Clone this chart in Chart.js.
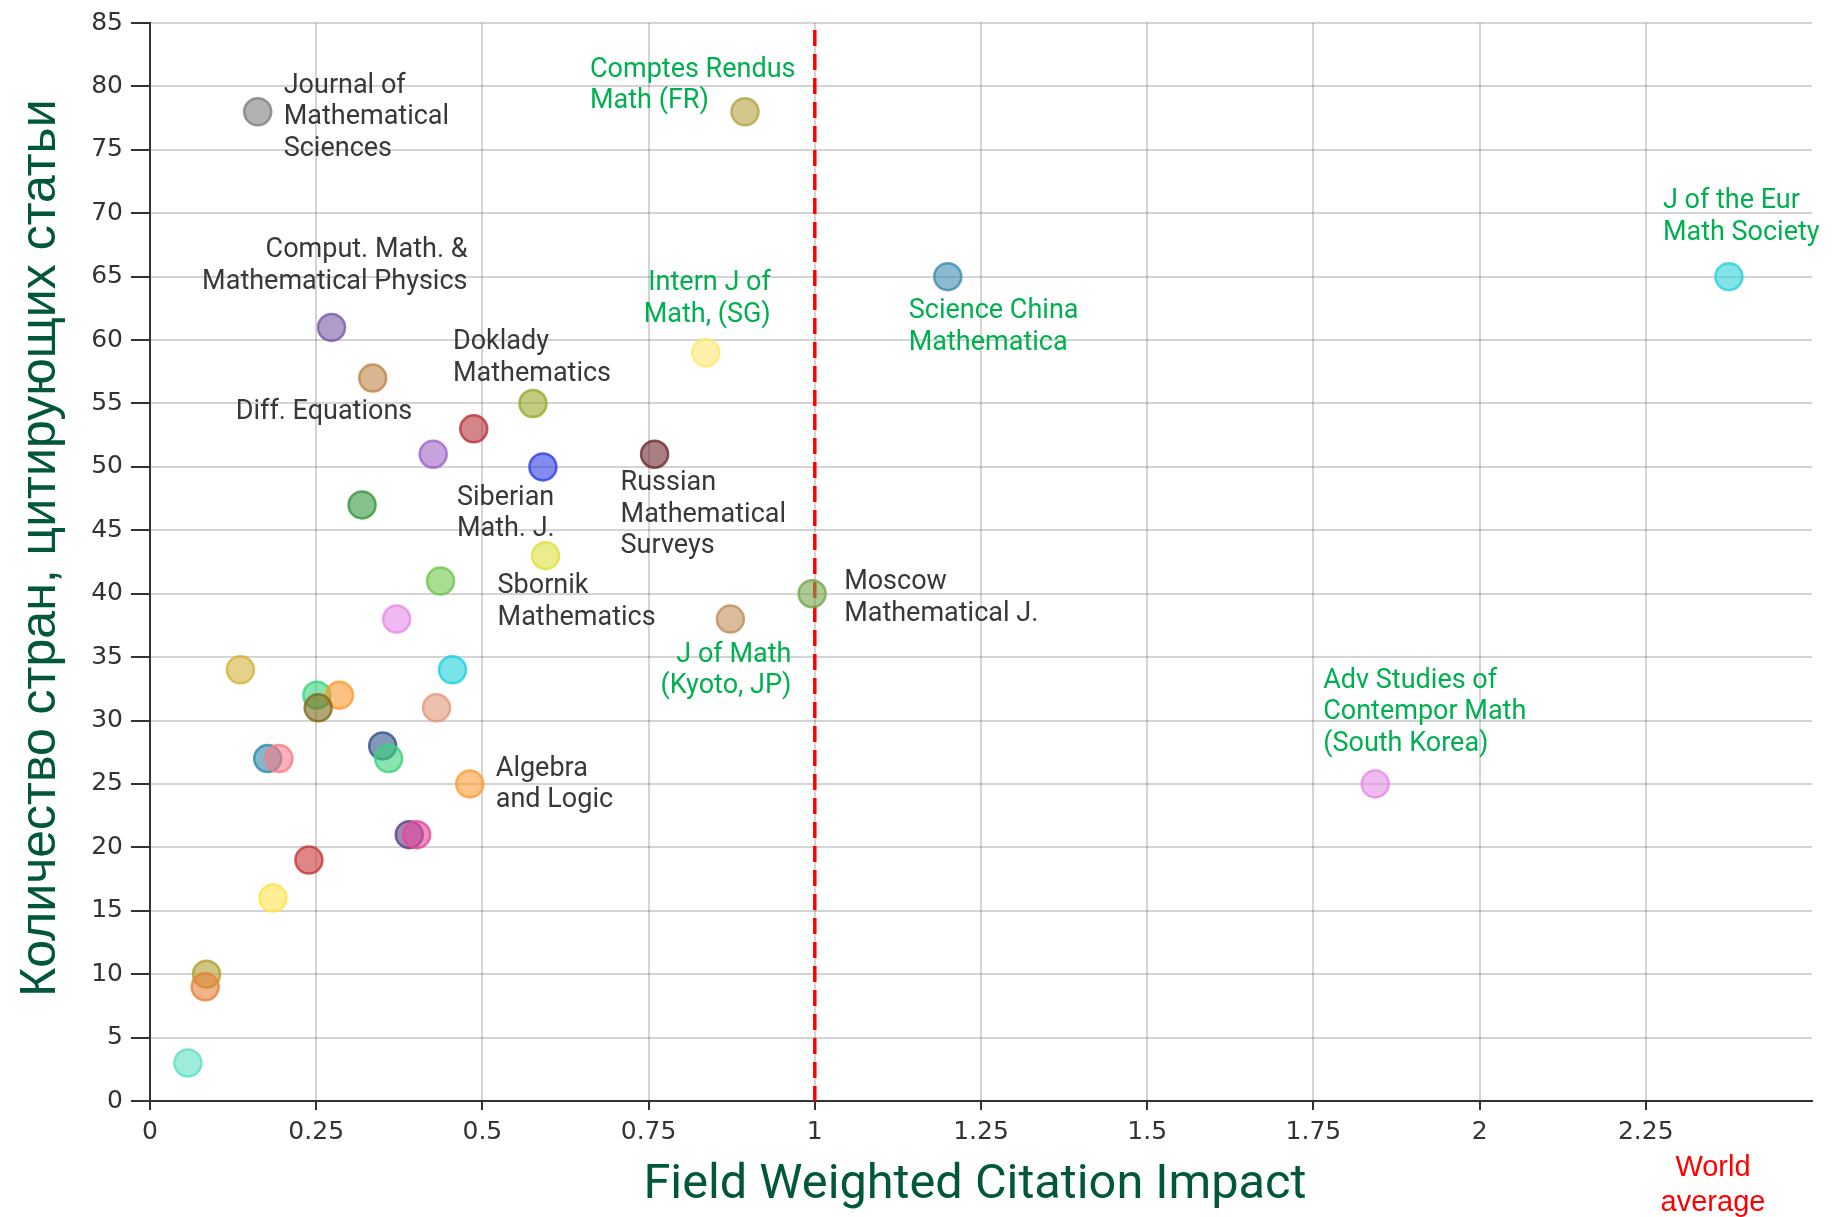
<!DOCTYPE html>
<html>
<head>
<meta charset="utf-8">
<script src="https://cdn.jsdelivr.net/npm/chart.js@4/dist/chart.umd.min.js"></script>
<style>
  html, body { margin: 0; padding: 0; background: #ffffff; }
  canvas { display: block; }
</style>
</head>
<body>
<canvas id="chart" width="1839" height="1217"></canvas>
<script>
// ---------- DATA ----------
const journals = [
  "Journal of\nMathematical\nSciences",
  "Comptes Rendus\nMath (FR)",
  "J of the Eur\nMath Society",
  "Science China\nMathematica",
  "Comput. Math. &\nMathematical Physics",
  "Intern J of\nMath, (SG)",
  "Diff. Equations",
  "Doklady\nMathematics",
  null,
  null,
  "Russian\nMathematical\nSurveys",
  "Siberian\nMath. J.",
  null,
  "Sbornik\nMathematics",
  null,
  "Moscow\nMathematical J.",
  null,
  "J of Math\n(Kyoto, JP)",
  null, null, null, null, null, null, null, null, null, null,
  "Algebra\nand Logic",
  "Adv Studies of\nContempor Math\n(South Korea)",
  null, null, null, null, null, null, null
];

// Field Weighted Citation Impact
const fwci = [
  0.162, 0.895, 2.375, 1.200, 0.273, 0.836, 0.335, 0.576, 0.487, 0.426,
  0.759, 0.591, 0.319, 0.595, 0.437, 0.996, 0.371, 0.873, 0.136, 0.455,
  0.251, 0.285, 0.253, 0.431, 0.350, 0.359, 0.177, 0.194, 0.481, 1.843,
  0.390, 0.401, 0.239, 0.185, 0.085, 0.083, 0.057
];

// Number of citing countries
const countries = [
  78, 78, 65, 65, 61, 59, 57, 55, 53, 51,
  51, 50, 47, 43, 41, 40, 38, 38, 34, 34,
  32, 32, 31, 31, 28, 27, 27, 27, 25, 25,
  21, 21, 19, 16, 10, 9, 3
];

// 'ru' = Russian journal (dark label), 'intl' = foreign journal (green label)
const origin = [
  "ru", "intl", "intl", "intl", "ru", "intl", "ru", "ru", "ru", "ru",
  "ru", "ru", "ru", "ru", "ru", "ru", "ru", "intl", "ru", "ru",
  "ru", "ru", "ru", "ru", "ru", "ru", "ru", "ru", "ru", "intl",
  "ru", "ru", "ru", "ru", "ru", "ru", "ru"
];

const pointColors = [
  "#7f7f7f", "#b5a440", "#2fd0d8", "#3d8db0", "#7a5aa5", "#ffe770", "#c0844a", "#9aa82a", "#b8343c", "#a065c4",
  "#6e2a30", "#3040e4", "#36963c", "#e0e040", "#6cc84a", "#78a64c", "#e88ae8", "#c0905a", "#d2b43c", "#1ed2dc",
  "#3ad37c", "#ff9a30", "#7f6b1a", "#e3987a", "#34548a", "#3ad37c", "#2e89a8", "#fa7c88", "#ff9d33", "#e48ee6",
  "#5d3e86", "#e8479a", "#c93636", "#ffe34d", "#b0a030", "#e8823a", "#5fe0c5"
];

const xTickValues = [0, 0.25, 0.5, 0.75, 1, 1.25, 1.5, 1.75, 2, 2.25];
const yTickValues = [0, 5, 10, 15, 20, 25, 30, 35, 40, 45, 50, 55, 60, 65, 70, 75, 80, 85];
const worldAverage = 1;

const xTitle = "Field Weighted Citation Impact";
const yTitle = "Количество стран, цитирующих статьи";
const worldAverageText = ["World", "average"];

// ---------- LABEL PLACEMENT (pixel offsets from the point) ----------
const labelPlacement = {
  0:  { align: "left",  dx: 26,   dy: -26 },
  1:  { align: "left",  dx: -155, dy: -42 },
  2:  { align: "left",  dx: -66,  dy: -75 },
  3:  { align: "left",  dx: -39,  dy: 35 },
  4:  { align: "right", dx: 136,  dy: -77 },
  5:  { align: "right", dx: 65,   dy: -69 },
  6:  { align: "left",  dx: -137, dy: 34 },
  7:  { align: "left",  dx: -80,  dy: -61 },
  10: { align: "left",  dx: -34,  dy: 29 },
  11: { align: "left",  dx: -86,  dy: 31 },
  13: { align: "left",  dx: -48,  dy: 31 },
  15: { align: "left",  dx: 32,   dy: -11 },
  17: { align: "right", dx: 61,   dy: 36 },
  28: { align: "left",  dx: 26,   dy: -15 },
  29: { align: "left",  dx: -52,  dy: -103 }
};

function hexToRgba(hex, a) {
  const n = parseInt(hex.slice(1), 16);
  return `rgba(${(n >> 16) & 255},${(n >> 8) & 255},${n & 255},${a})`;
}

const points = fwci.map((x, i) => ({ x: x, y: countries[i] }));

const labelPlugin = {
  id: "journalLabels",
  afterDatasetsDraw(chart) {
    const ctx = chart.ctx;
    const meta = chart.getDatasetMeta(1);
    ctx.save();
    ctx.font = "27px Roboto";
    ctx.textBaseline = "middle";
    const lh = 31.6;
    journals.forEach((name, i) => {
      if (!name) return;
      const p = labelPlacement[i];
      if (!p) return;
      const el = meta.data[i];
      ctx.fillStyle = origin[i] === "intl" ? "#00b04f" : "#383838";
      ctx.textAlign = p.align;
      name.split("\n").forEach((line, k) => {
        ctx.fillText(line, el.x + p.dx, el.y + p.dy + k * lh);
      });
    });
    ctx.restore();
  },
  afterDraw(chart) {
    const ctx = chart.ctx;
    const area = chart.chartArea;
    ctx.save();
    ctx.font = "29px 'Liberation Sans'";
    ctx.fillStyle = "#ff0000";
    ctx.textAlign = "center";
    ctx.textBaseline = "middle";
    worldAverageText.forEach((t, k) => {
      ctx.fillText(t, area.right - 99, area.bottom + 67 + k * 35);
    });
    ctx.restore();
  }
};

new Chart(document.getElementById("chart"), {
  type: "scatter",
  data: {
    datasets: [
      {
        type: "line",
        label: "World average",
        data: [{ x: worldAverage, y: 85 }, { x: worldAverage, y: 0 }],
        borderColor: "#ff0000",
        borderWidth: 3.5,
        borderDash: [16, 8],
        borderDashOffset: 17,
        pointRadius: 0,
        fill: false,
        order: 2
      },
      {
        label: "Journals",
        data: points,
        pointRadius: 13.5,
        pointBorderWidth: 2.5,
        pointBackgroundColor: pointColors.map(c => hexToRgba(c, 0.6)),
        pointBorderColor: pointColors.map(c => hexToRgba(c, 0.8)),
        order: 1
      }
    ]
  },
  options: {
    responsive: false,
    animation: false,
    devicePixelRatio: 1,
    layout: { padding: { top: 20, right: 27, left: 0, bottom: 0 } },
    plugins: {
      legend: { display: false },
      tooltip: { enabled: false }
    },
    scales: {
      x: {
        type: "linear",
        min: 0,
        max: 2.5,
        afterBuildTicks(scale) { scale.ticks = xTickValues.map(v => ({ value: v })); },
        afterFit(scale) { scale.height = 116; },
        ticks: {
          font: { family: "DejaVu Sans", size: 25 },
          color: "#333333",
          padding: 7,
          maxRotation: 0,
          autoSkip: false,
          callback: v => String(v)
        },
        grid: {
          color: "rgba(0,0,0,0.17)",
          lineWidth: 2,
          tickColor: "#333333",
          tickLength: 9
        },
        border: { display: true, color: "#333333", width: 2 },
        title: {
          display: true,
          text: xTitle + " ",
          color: "#00573b",
          font: { family: "Roboto", size: 48.7 },
          padding: { top: 0, bottom: 2 }
        }
      },
      y: {
        type: "linear",
        min: 0,
        max: 85,
        afterBuildTicks(scale) { scale.ticks = yTickValues.map(v => ({ value: v })); },
        afterFit(scale) { scale.width = 150; },
        ticks: {
          font: { family: "DejaVu Sans", size: 25 },
          color: "#333333",
          padding: 8,
          autoSkip: false
        },
        grid: {
          color: "rgba(0,0,0,0.17)",
          lineWidth: 2,
          tickColor: "#333333",
          tickLength: 19
        },
        border: { display: true, color: "#333333", width: 2 },
        title: {
          display: true,
          text: "  " + yTitle,
          color: "#00573b",
          font: { family: "Liberation Sans", size: 50 },
          padding: { top: 11, bottom: 0 }
        }
      }
    }
  },
  plugins: [labelPlugin]
});
</script>
</body>
</html>
